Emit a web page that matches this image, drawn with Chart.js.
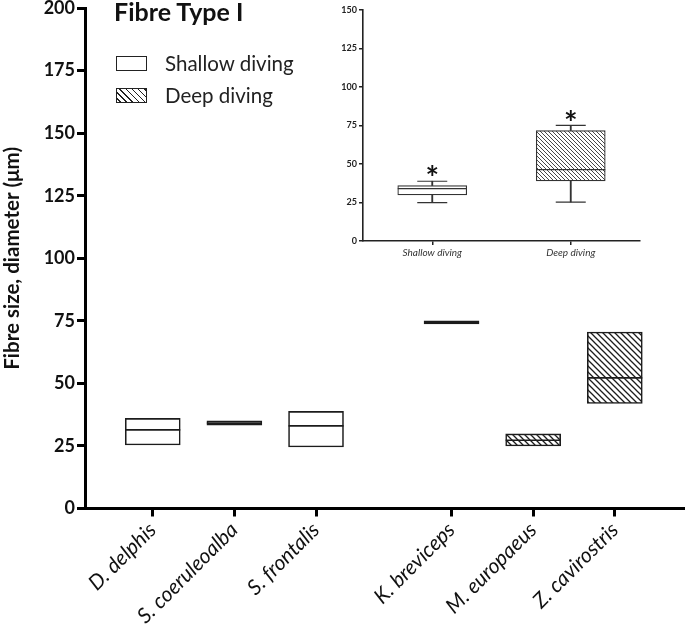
<!DOCTYPE html>
<html>
<head>
<meta charset="utf-8">
<script src="https://cdn.jsdelivr.net/npm/chart.js@4"></script>
<style>
  html, body { margin: 0; padding: 0; background: #fff; }
  #wrap { position: relative; width: 685px; height: 629px; overflow: hidden; font-family: Lato, sans-serif; }
  #main { position: absolute; left: 0; top: 0; }
  #inset { position: absolute; left: 325px; top: 0; }
  .title { position: absolute; left: 114px; top: -4px; font: bold 25px Lato, sans-serif; color: #111; }
  .lg-box { position: absolute; left: 116px; width: 29px; height: 13px; border: 1.5px solid #222; background: #fff; }
  .lg-box.deep { background: repeating-linear-gradient(45deg, #fff 0 2px, #222 2px 3.2px, #fff 3.2px 4.3px); }
  .lg-text { position: absolute; left: 165px; font: 20.5px Lato, sans-serif; color: #222; }
</style>
</head>
<body>
<div id="wrap">
  <canvas id="main" width="685" height="629"></canvas>
  <canvas id="inset" width="340" height="265"></canvas>
  <div class="title">Fibre Type I</div>
  <div class="lg-box" style="top:56px"></div>
  <div class="lg-text" style="top:51px">Shallow diving</div>
  <div class="lg-box deep" style="top:88px"></div>
  <div class="lg-text" style="top:83px">Deep diving</div>
</div>
<script>
// main chart data
const species = ['D. delphis', 'S. coeruleoalba', 'S. frontalis', 'K. breviceps', 'M. europaeus', 'Z. cavirostris']
const speciesPos = [1, 2, 3, 4.66, 5.66, 6.66]
const boxLow = [25.4, 33.3, 24.6, 73.8, 25.0, 42.0]
const boxHigh = [36.0, 35.0, 38.8, 75.0, 29.8, 70.5]
const medians = [31.4, 34.1, 33.0, 74.4, 27.3, 52.2]
const isDeep = [false, false, false, true, true, true]
const yTicks = [0, 25, 50, 75, 100, 125, 150, 175, 200]

// inset data
const groups = ['Shallow diving', 'Deep diving']
const insetMin = [24.9, 25.3]
const insetQ1 = [29.9, 39.0]
const insetMedian = [34.0, 46.4]
const insetQ3 = [36.0, 71.7]
const insetMax = [38.8, 75.1]
const insetStar = [46, 81.6]
const insetTicks = [0, 25, 50, 75, 100, 125, 150]

const INK = '#1c1c1c'

function hatch(size, lw, color){
  const c = document.createElement('canvas'); c.width = size; c.height = size
  const g = c.getContext('2d')
  g.fillStyle = '#fff'; g.fillRect(0, 0, size, size)
  g.strokeStyle = color; g.lineWidth = lw
  g.beginPath()
  g.moveTo(-1, -1); g.lineTo(size + 1, size + 1)
  g.moveTo(size - 2, -2); g.lineTo(size + 2, 2)
  g.moveTo(-2, size - 2); g.lineTo(2, size + 2)
  g.stroke()
  return g.createPattern(c, 'repeat')
}

// drop the automatic label overflow padding so the plot area sits where the reference has it
function noPad(axis){ axis.paddingLeft = 0; axis.paddingRight = 0; axis.paddingTop = 0; axis.paddingBottom = 0 }

const mainHatch = hatch(6, 1.3, INK)
const insetHatch = hatch(4, 0.9, '#333')

new Chart(document.getElementById('main'), {
  type: 'bar',
  data: {
    datasets: [
      {
        type: 'line', showLine: false, order: 1,
        data: speciesPos.map((x, i) => ({ x, y: medians[i] })),
        pointStyle: 'line', pointRadius: 27.5, pointHoverRadius: 27.5,
        borderColor: INK, pointBorderWidth: 1.6, borderWidth: 1.6
      },
      {
        order: 2, grouped: false,
        data: speciesPos.map((x, i) => ({ x, y: [boxLow[i], boxHigh[i]] })),
        backgroundColor: isDeep.map(d => d ? mainHatch : '#fff'),
        borderColor: INK, borderWidth: 1.6, borderSkipped: false,
        barThickness: 55
      }
    ]
  },
  options: {
    responsive: false, animation: false,
    layout: { autoPadding: false, padding: { left: 0, right: 0, top: 8, bottom: 0 } },
    plugins: { legend: { display: false }, tooltip: { enabled: false } },
    scales: {
      x: {
        type: 'linear', min: 0.17, max: 7.52, offset: false,
        afterBuildTicks: axis => { axis.ticks = speciesPos.map(v => ({ value: v })) },
        afterFit: axis => { axis.height = 120.5; noPad(axis) },
        grid: { offset: false, drawOnChartArea: false, drawTicks: true, tickLength: 8, lineWidth: 3, color: '#000' },
        border: { display: true, width: 3, color: '#000' },
        ticks: {
          autoSkip: false, maxRotation: 45, minRotation: 45, padding: 1,
          color: '#111', font: { family: 'Lato', size: 21, style: 'italic' },
          callback: (v, i) => species[i]
        }
      },
      y: {
        min: 0, max: 200,
        afterBuildTicks: axis => { axis.ticks = yTicks.map(v => ({ value: v })) },
        afterFit: axis => { axis.width = 85; noPad(axis) },
        grid: { drawOnChartArea: false, drawTicks: true, tickLength: 8, lineWidth: 3, color: '#000' },
        border: { display: true, width: 3, color: '#000' },
        ticks: { padding: 2, color: '#111', font: { family: 'Lato', size: 18, weight: 'bold' } },
        title: {
          display: true, text: 'Fibre size, diameter (μm)', padding: { top: 0, bottom: 0 },
          color: '#111', font: { family: 'Lato', size: 20.5, weight: 'bold' }
        }
      }
    }
  }
})

const starPlugin = {
  id: 'stars',
  afterDatasetsDraw(chart){
    const { ctx, scales } = chart
    ctx.save()
    ctx.fillStyle = '#111'
    ctx.font = 'bold 32px Lato'
    ctx.textAlign = 'center'
    ctx.textBaseline = 'alphabetic'
    const m = ctx.measureText('*')
    const shift = (m.actualBoundingBoxAscent - m.actualBoundingBoxDescent) / 2
    insetStar.forEach((v, i) => {
      ctx.fillText('*', scales.x.getPixelForValue(i), scales.y.getPixelForValue(v) + shift)
    })
    ctx.restore()
  }
}

new Chart(document.getElementById('inset'), {
  type: 'bar',
  data: {
    labels: groups,
    datasets: [
      { type: 'line', showLine: false, order: 1, data: insetMedian, pointStyle: 'line', pointRadius: 34.5, pointBorderWidth: 1.2, borderColor: '#333' },
      { type: 'line', showLine: false, order: 1, data: insetMin, pointStyle: 'line', pointRadius: 15, pointBorderWidth: 1.2, borderColor: '#333' },
      { type: 'line', showLine: false, order: 1, data: insetMax, pointStyle: 'line', pointRadius: 15, pointBorderWidth: 1.2, borderColor: '#333' },
      {
        order: 2, grouped: false,
        data: groups.map((g, i) => [insetQ1[i], insetQ3[i]]),
        backgroundColor: [ '#fff', insetHatch ], borderColor: '#333', borderWidth: 1.2, borderSkipped: false,
        barThickness: 69
      },
      { order: 3, grouped: false, data: groups.map((g, i) => [insetMin[i], insetQ1[i]]), backgroundColor: '#333', barThickness: 1.2 },
      { order: 3, grouped: false, data: groups.map((g, i) => [insetQ3[i], insetMax[i]]), backgroundColor: '#333', barThickness: 1.2 }
    ]
  },
  options: {
    responsive: false, animation: false,
    layout: { autoPadding: false, padding: { left: 0, right: 25, top: 10, bottom: 0 } },
    plugins: { legend: { display: false }, tooltip: { enabled: false } },
    scales: {
      x: {
        offset: true,
        afterFit: axis => { axis.height = 24; noPad(axis) },
        grid: { drawOnChartArea: false, drawTicks: true, tickLength: 4, lineWidth: 1.5, color: '#222', offset: false },
        border: { display: true, width: 1.6, color: '#222' },
        ticks: { padding: 2, color: '#333', font: { family: 'Lato', size: 10, style: 'italic' } }
      },
      y: {
        min: 0, max: 150,
        afterBuildTicks: axis => { axis.ticks = insetTicks.map(v => ({ value: v })) },
        afterFit: axis => { axis.width = 38; noPad(axis) },
        grid: { drawOnChartArea: false, drawTicks: true, tickLength: 4, lineWidth: 1.5, color: '#222' },
        border: { display: true, width: 1.6, color: '#222' },
        ticks: { padding: 2, color: '#222', font: { family: 'Lato', size: 9, weight: 'bold' } }
      }
    }
  },
  plugins: [starPlugin]
})
</script>
</body>
</html>
